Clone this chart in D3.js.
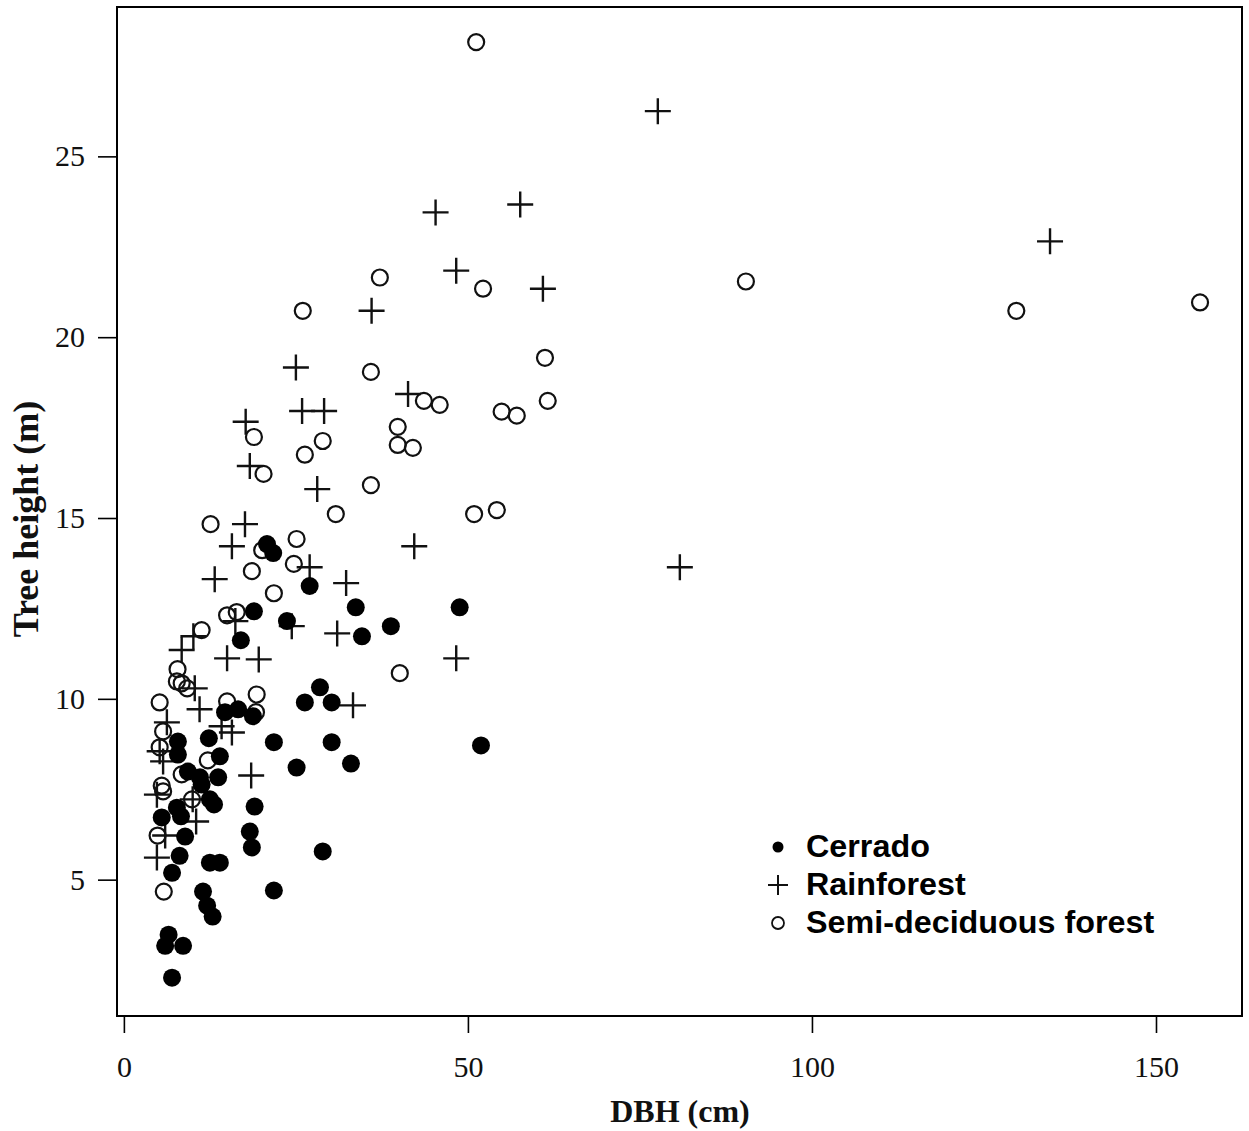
<!DOCTYPE html>
<html>
<head>
<meta charset="utf-8">
<script src="https://cdn.jsdelivr.net/npm/d3@7"></script>
<style>
  html, body { margin: 0; padding: 0; background: #fff; }
  svg { display: block; }
</style>
</head>
<body>
<svg id="chart" width="1249" height="1131"></svg>
<script>
// Tree height vs. stem diameter (DBH) by forest type

const groups = ["Cerrado", "Rainforest", "Semi-deciduous forest"];

// Cerrado: [DBH cm, height m]
const cerrado = [
  [20.8,14.28],[21.7,14.03],[18.9,12.42],[23.7,12.15],[17.0,11.62],[27.0,13.12],
  [33.7,12.53],[34.6,11.73],[38.8,12.01],[48.8,12.53],[51.9,8.71],[28.5,10.32],
  [26.3,9.90],[30.2,9.90],[30.2,8.80],[33.0,8.21],[25.1,8.10],[21.8,8.80],
  [28.9,5.78],[21.8,4.70],[16.6,9.71],[14.7,9.63],[18.75,9.52],[19.0,7.02],
  [18.3,6.33],[18.6,5.89],[12.35,8.91],[13.95,8.41],[13.7,7.83],[11.05,7.83],
  [11.3,7.63],[12.5,7.22],[13.1,7.08],[9.3,7.99],[7.85,8.82],[7.85,8.46],
  [7.7,6.99],[8.3,6.75],[8.9,6.19],[5.5,6.72],[7.0,5.19],[8.1,5.66],
  [12.5,5.47],[13.95,5.47],[11.5,4.67],[12.1,4.28],[12.9,3.98],[6.5,3.48],
  [6.0,3.17],[8.6,3.17],[7.0,2.29]
];

// Rainforest: [DBH cm, height m]
const rainforest = [
  [77.6,26.25],[134.6,22.65],[45.3,23.45],[57.6,23.67],[48.3,21.84],[60.9,21.34],
  [36.0,20.73],[25.0,19.16],[41.3,18.43],[17.7,17.66],[25.9,17.96],[29.1,17.96],
  [18.3,16.44],[28.1,15.80],[42.2,14.22],[17.6,14.83],[15.7,14.22],[13.2,13.31],
  [80.8,13.64],[32.3,13.20],[27.0,13.64],[16.2,12.15],[24.4,12.01],[31.0,11.81],
  [15.0,11.12],[19.6,11.09],[48.3,11.12],[8.4,11.35],[10.1,11.73],[33.3,9.82],
  [11.0,9.71],[10.3,10.29],[6.25,9.35],[14.2,9.24],[15.7,9.07],[18.5,7.88],
  [5.2,8.55],[5.7,8.27],[4.8,7.35],[10.0,7.22],[10.5,6.61],[6.0,6.22],[4.8,5.61]
];

// Semi-deciduous forest: [DBH cm, height m]
const semideciduous = [
  [51.2,28.16],[90.4,21.54],[129.7,20.73],[156.4,20.96],[26.0,20.73],[37.2,21.65],
  [52.2,21.34],[61.2,19.43],[35.9,19.04],[61.6,18.24],[43.6,18.24],[45.9,18.13],
  [54.9,17.94],[57.1,17.83],[39.8,17.52],[39.8,17.02],[42.0,16.94],[28.9,17.13],
  [26.3,16.75],[18.9,17.24],[20.3,16.22],[35.9,15.91],[30.8,15.11],[50.9,15.11],
  [54.2,15.22],[12.6,14.83],[25.1,14.42],[20.1,14.11],[24.7,13.73],[18.6,13.53],
  [21.8,12.92],[16.4,12.40],[15.0,12.31],[11.3,11.90],[40.1,10.71],[7.8,10.82],
  [7.7,10.48],[8.4,10.43],[9.2,10.29],[5.2,9.90],[19.3,10.12],[15.0,9.93],
  [19.2,9.63],[5.7,9.10],[5.2,8.66],[12.2,8.30],[8.4,7.91],[5.5,7.60],
  [5.7,7.44],[9.9,7.22],[4.9,6.22],[5.8,4.67]
];

const xTicks = [0, 50, 100, 150];
const yTicks = [5, 10, 15, 20, 25];
const xTitle = "DBH (cm)";
const yTitle = "Tree height (m)";

const svg = d3.select("#chart");
const plot = { left: 117, right: 1242, top: 7, bottom: 1016 };

const x = d3.scaleLinear().domain([-1.0, 162.5]).range([plot.left, plot.right]);
const y = d3.scaleLinear().domain([1.23, 29.13]).range([plot.bottom, plot.top]);

const serif = "'Liberation Serif', 'Times New Roman', serif";
const sans = "'Liberation Sans', Arial, sans-serif";

// Axes (ticks hang outward from the frame)
const xAxis = d3.axisBottom(x).tickValues(xTicks).tickSize(17).tickPadding(23).tickFormat(d3.format("d"));
const yAxis = d3.axisLeft(y).tickValues(yTicks).tickSize(19).tickPadding(13).tickFormat(d3.format("d"));

const gx = svg.append("g").attr("transform", `translate(0,${plot.bottom})`).call(xAxis);
const gy = svg.append("g").attr("transform", `translate(${plot.left},0)`).call(yAxis);
[gx, gy].forEach(g => {
  g.select(".domain").remove();
  g.selectAll(".tick line").attr("stroke", "#000").attr("stroke-width", 1.6);
  g.selectAll(".tick text").attr("fill", "#111").style("font-family", serif).style("font-size", "30px");
});

// Frame
svg.append("rect")
  .attr("x", plot.left).attr("y", plot.top)
  .attr("width", plot.right - plot.left).attr("height", plot.bottom - plot.top)
  .attr("fill", "none").attr("stroke", "#000").attr("stroke-width", 2);

// Axis titles
svg.append("text")
  .attr("x", 680).attr("y", 1122)
  .attr("text-anchor", "middle")
  .style("font-family", serif).style("font-weight", "bold").style("font-size", "32px")
  .attr("fill", "#111")
  .text(xTitle);

svg.append("text")
  .attr("transform", "translate(38,519) rotate(-90)")
  .attr("text-anchor", "middle")
  .style("font-family", serif).style("font-weight", "bold").style("font-size", "36px")
  .attr("fill", "#111")
  .text(yTitle);

// Marks
const R = 9;
const P = 13;

svg.append("g").selectAll("circle.sd")
  .data(semideciduous).join("circle")
  .attr("cx", d => x(d[0])).attr("cy", d => y(d[1])).attr("r", 8)
  .attr("fill", "none").attr("stroke", "#111").attr("stroke-width", 2.2);

svg.append("g").selectAll("path.rf")
  .data(rainforest).join("path")
  .attr("d", d => {
    const cx = x(d[0]), cy = y(d[1]);
    return `M${cx - P},${cy}H${cx + P}M${cx},${cy - P}V${cy + P}`;
  })
  .attr("fill", "none").attr("stroke", "#111").attr("stroke-width", 2.4);

svg.append("g").selectAll("circle.ce")
  .data(cerrado).join("circle")
  .attr("cx", d => x(d[0])).attr("cy", d => y(d[1])).attr("r", R)
  .attr("fill", "#000");

// Legend
const lg = svg.append("g").attr("transform", "translate(778,847)");
groups.forEach((name, i) => {
  const row = lg.append("g").attr("transform", `translate(0,${i * 38})`);
  if (i === 0) row.append("circle").attr("r", 5.5).attr("fill", "#000");
  if (i === 1) row.append("path").attr("d", "M-10,0H10M0,-10V10").attr("stroke", "#111").attr("stroke-width", 2);
  if (i === 2) row.append("circle").attr("r", 6).attr("fill", "none").attr("stroke", "#111").attr("stroke-width", 1.8);
  row.append("text")
    .attr("transform", "translate(28,10) scale(1.06,1)")
    .style("font-family", sans).style("font-weight", "bold").style("font-size", "30.5px")
    .attr("fill", "#000")
    .text(name);
});
</script>
</body>
</html>
